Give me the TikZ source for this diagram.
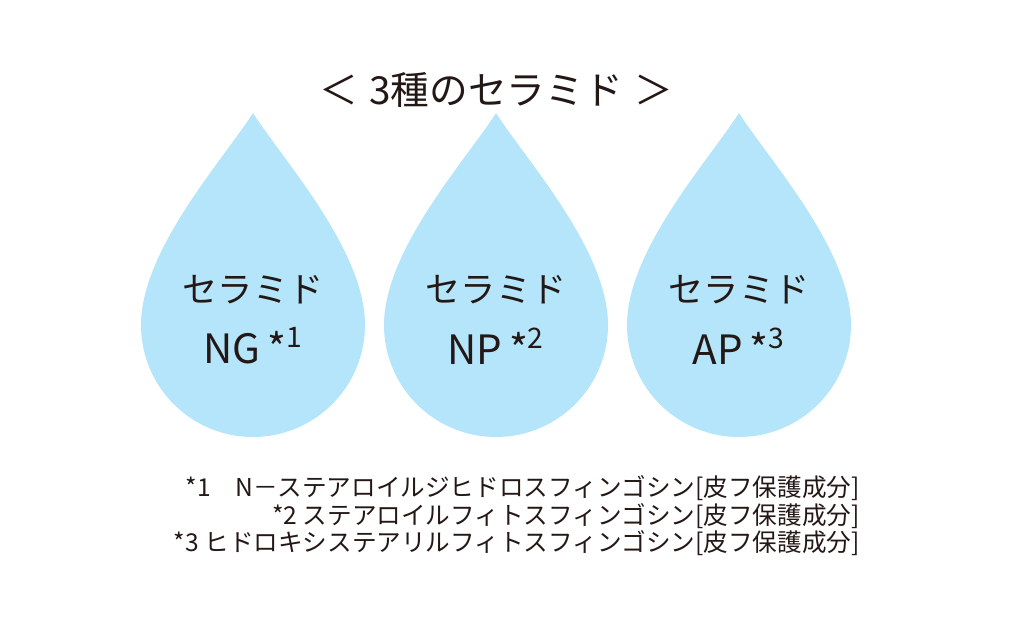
\documentclass[tikz,border=0pt]{standalone}
\usepackage{fontspec}
\setmainfont{Noto Sans CJK JP}
\definecolor{dropblue}{HTML}{B4E5FA}
\definecolor{inkgray}{HTML}{231815}

\begin{document}
\begin{tikzpicture}[x=0.02cm,y=-0.02cm]
  % Estilos
  \tikzset{
    drop_fill/.style={fill=dropblue,draw=none},
    title_text/.style={text=inkgray,font=\fontsize{22}{26}\selectfont,inner sep=0pt},
    drop_text/.style={text=inkgray,font=\fontsize{20}{24}\selectfont,inner sep=0pt},
    code_text/.style={text=inkgray,font=\fontsize{23}{26}\selectfont,inner sep=0pt},
    note_text/.style={text=inkgray,font=\fontsize{14}{16}\selectfont,inner sep=0pt,anchor=east}
  }
  \useasboundingbox (0,0) rectangle (1017,625);

  % Titulo
  \node[title_text] (title) at (496,90) {＜\hspace{0.3em}3種のセラミド\hspace{0.3em}＞};

  % Gotas con su nombre
  \foreach \cx/\name/\kind/\num in {253/ng/NG/1,496/np/NP/2,739/ap/AP/3}{
    \fill[drop_fill] (\cx,113) .. controls (\cx-30,160) and (\cx-112,250) .. (\cx-112,325)
      arc[start angle=180,end angle=0,radius=112]
      .. controls (\cx+112,250) and (\cx+30,160) .. (\cx,113) -- cycle;
    \node[drop_text] (\name_a) at (\cx,290) {セラミド};
    \node[code_text] (\name_b) at (\cx,346) {\kind\,*\textsuperscript{\num}};
  }

  % Notas
  \node[note_text] (note1) at (860,488) {*1　N－ステアロイルジヒドロスフィンゴシン[皮フ保護成分]};
  \node[note_text] (note2) at (860,516) {*2 ステアロイルフィトスフィンゴシン[皮フ保護成分]};
  \node[note_text] (note3) at (860,543) {*3 ヒドロキシステアリルフィトスフィンゴシン[皮フ保護成分]};
\end{tikzpicture}
\end{document}
